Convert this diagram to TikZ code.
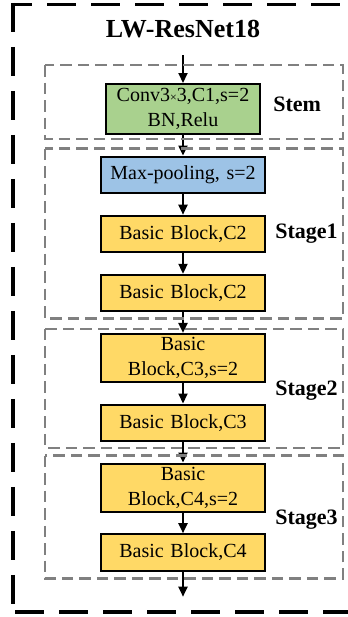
\documentclass[tikz,border=0pt]{standalone}
\usepackage{fontspec}
\setmainfont{Liberation Serif}
\usetikzlibrary{positioning,calc,arrows.meta}
\definecolor{stemgreen}{RGB}{169,209,142}
\definecolor{poolblue}{RGB}{157,195,230}
\definecolor{blockyellow}{RGB}{255,217,102}
\definecolor{stagegray}{RGB}{128,128,128}
\tikzset{
	blk/.style={draw, line width=1pt, fill=blockyellow, text width=82pt, inner xsep=0pt, inner ysep=1.5pt, minimum height=18.25pt, align=center, font=\fontsize{10}{12.5}\selectfont},
	blktwo/.style={blk, minimum height=24pt},
	stagebox/.style={draw=stagegray, line width=1.4pt, dash pattern=on 5.75pt off 3pt},
	stagelbl/.style={font=\fontsize{11}{13}\selectfont\bfseries, inner sep=0pt},
	flow/.style={-{Triangle[length=5pt,width=4.5pt]}, line width=1pt},
	outer/.style={line width=1.65pt, dash pattern=on 14.5pt off 7.5pt},
}

\begin{document}
\begin{tikzpicture}[x=0.5pt, y=0.5pt, node distance=10.3pt]
	\useasboundingbox (0,0) rectangle (348,-617);
	\node(title) at (183,-29) [font=\fontsize{13}{15}\selectfont\bfseries] {LW-ResNet18};
	\node(stem) at (183,-109) [blk, fill=stemgreen, text width=77pt, minimum height=25pt] {Conv3{\fontsize{6}{6}\selectfont ×}3,C1,s=2\\BN,Relu};
	\node(pool) [blk, fill=poolblue, below=of stem] {Max-pooling, s=2};
	\node(s1a) [blk, below=of pool] {Basic Block,C2};
	\node(s1b) [blk, below=of s1a] {Basic Block,C2};
	\node(s2a) [blktwo, below=of s1b] {Basic\\Block,C3,s=2};
	\node(s2b) [blk, below=of s2a] {Basic Block,C3};
	\node(s3a) [blktwo, below=of s2b] {Basic\\Block,C4,s=2};
	\node(s3b) [blk, below=of s3a] {Basic Block,C4};
	
	\node(lstem) [stagelbl, anchor=west] at ($(stem.east)+(12,5)$) {Stem};
	\node(ls1) [stagelbl, right=4.5pt of s1a] {Stage1};
	\node(ls2) [stagelbl, anchor=west] at ($(s2a.east)!0.5!(s2b.east)+(9,0)$) {Stage2};
	\node(ls3) [stagelbl, anchor=west] at ($(s3a.east)!0.5!(s3b.east)+(9,0)$) {Stage3};
	
	\coordinate(in) at (183,-55);
	\coordinate(out) at ($(s3b.south)+(0,-25)$);
	
	\draw[flow](in) --(stem);
	\draw[flow](stem) --(pool);
	\draw[flow](pool) --(s1a);
	\draw[flow](s1a) --(s1b);
	\draw[flow](s1b) --(s2a);
	\draw[flow](s2a) --(s2b);
	\draw[flow](s2b) --(s3a);
	\draw[flow](s3a) --(s3b);
	\draw[flow](s3b) --(out);
	
	\draw[stagebox] ($(stem.north)+(-138,18)$) rectangle ($(stem.south)+(160,-4)$);
	\draw[stagebox] ($(pool.north)+(-138,7)$) rectangle ($(s1b.south)+(160,-6)$);
	\draw[stagebox] ($(s2a.north)+(-138,4)$) rectangle ($(s2b.south)+(160,-6)$);
	\draw[stagebox] ($(s3a.north)+(-138,7)$) rectangle ($(s3b.south)+(160,-7)$);
	
	\draw[outer] (13,-2.85) --(13,-612);
	\draw[outer, dash phase=5pt] (13,-4.5) --(365,-4.5);
	\draw[outer] (15,-612) --(365,-612);
\end{tikzpicture}
\end{document}
